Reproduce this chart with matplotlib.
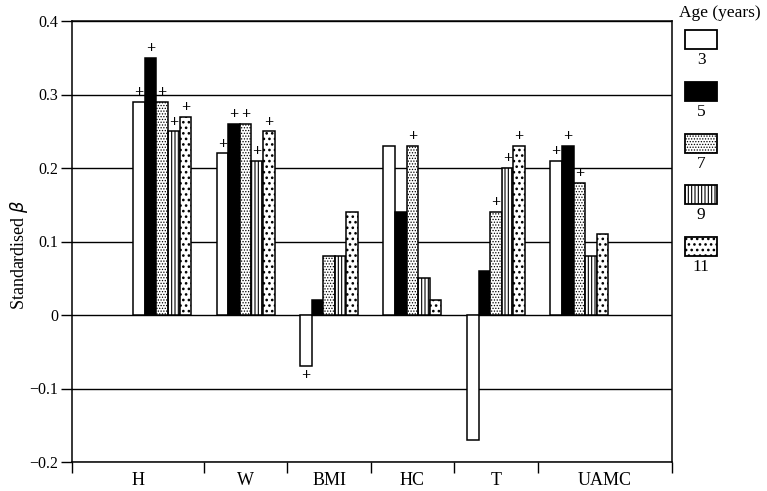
import matplotlib

matplotlib.use("Agg")
import matplotlib.pyplot as plt
from matplotlib.patches import Rectangle
import numpy as np

plt.rcParams["font.family"] = ["Liberation Serif", "DejaVu Serif"]
plt.rcParams["hatch.linewidth"] = 0.7

categories = ["H", "W", "BMI", "HC", "T", "UAMC"]
ages = ["3", "5", "7", "9", "11"]

beta_age3 = [0.29, 0.22, -0.07, 0.23, -0.17, 0.21]
beta_age5 = [0.35, 0.26, 0.02, 0.14, 0.06, 0.23]
beta_age7 = [0.29, 0.26, 0.08, 0.23, 0.14, 0.18]
beta_age9 = [0.25, 0.21, 0.08, 0.05, 0.20, 0.08]
beta_age11 = [0.27, 0.25, 0.14, 0.02, 0.23, 0.11]

sig_age3 = [True, True, True, False, False, True]
sig_age5 = [True, True, False, False, False, True]
sig_age7 = [True, True, False, True, True, True]
sig_age9 = [True, True, False, False, True, False]
sig_age11 = [True, True, False, False, True, False]

yticks = [-0.2, -0.1, 0, 0.1, 0.2, 0.3, 0.4]
ytick_labels = ["\u22120.2", "\u22120.1", "0", "0.1", "0.2", "0.3", "0.4"]

series = [beta_age3, beta_age5, beta_age7, beta_age9, beta_age11]
sigs = [sig_age3, sig_age5, sig_age7, sig_age9, sig_age11]
styles = [
    dict(facecolor="white", hatch=None),
    dict(facecolor="black", hatch=None),
    dict(facecolor="white", hatch="......"),
    dict(facecolor="white", hatch="|||||"),
    dict(facecolor="white", hatch="..."),
]
hatch_lw = [None, None, 0.6, 0.8, 1.1]


def set_hlw(artist, lw):
    if lw is not None and hasattr(artist, "set_hatch_linewidth"):
        artist.set_hatch_linewidth(lw)


fig = plt.figure(figsize=(7.67, 4.91), dpi=100)
ax = fig.add_axes([72 / 767, 1 - 462 / 491, 600 / 767, 441 / 491])

x = np.arange(len(categories))
w = 0.139
for k, (vals, sig, st) in enumerate(zip(series, sigs, styles)):
    xs = x + (k - 2) * w
    bars = ax.bar(xs, vals, width=w, edgecolor="black", linewidth=1.1, zorder=3, **st)
    for b in bars:
        set_hlw(b, hatch_lw[k])
    for xi, v, s in zip(xs, vals, sig):
        if not s:
            continue
        if v >= 0:
            ax.annotate("+", xy=(xi, v), xytext=(0, 0.5), textcoords="offset points",
                        ha="center", va="bottom", fontsize=11.5, fontweight="bold", zorder=4)
        else:
            ax.annotate("+", xy=(xi, v), xytext=(0, -1), textcoords="offset points",
                        ha="center", va="top", fontsize=11.5, fontweight="bold", zorder=4)

xmin, xmax = -1.08, 6.11
ax.set_xlim(xmin, xmax)
ax.set_ylim(-0.2, 0.4)
ax.set_yticks(yticks)
ax.set_yticklabels(ytick_labels, fontsize=11.5)
ax.yaxis.grid(True, color="black", linewidth=1.0)
ax.set_axisbelow(True)
ax.tick_params(axis="y", direction="out", length=8, width=1, pad=2)

seps = [xmin] + [i + 0.5 for i in range(len(categories) - 1)] + [xmax]
ax.set_xticks(seps)
ax.set_xticklabels([])
ax.tick_params(axis="x", which="major", direction="out", length=8, width=1)
mids = [(a + b) / 2 for a, b in zip(seps[:-1], seps[1:])]
ax.set_xticks(mids, minor=True)
ax.set_xticklabels(categories, minor=True, fontsize=13)
ax.tick_params(axis="x", which="minor", length=0, pad=7)

for sp in ax.spines.values():
    sp.set_linewidth(1.1)
    sp.set_color("black")

ax.set_ylabel("Standardised $\\beta$", fontsize=13)
ax.yaxis.set_label_coords(-0.07, 0.47)

# legend drawn in pixel coordinates to the right of the plot
lax = fig.add_axes([0, 0, 1, 1], facecolor="none")
lax.set_xlim(0, 767)
lax.set_ylim(491, 0)
lax.axis("off")
lax.text(720, 13, "Age (years)", ha="center", va="center", fontsize=12.5)
for i, (lab, st) in enumerate(zip(ages, styles)):
    top = 30 + i * 51.8
    p = lax.add_patch(Rectangle((685, top), 32, 19, edgecolor="black", linewidth=1.3, **st))
    set_hlw(p, hatch_lw[i])
    lax.text(701, top + 30, lab, ha="center", va="center", fontsize=12.5)

fig.savefig("out.png", dpi=100)
